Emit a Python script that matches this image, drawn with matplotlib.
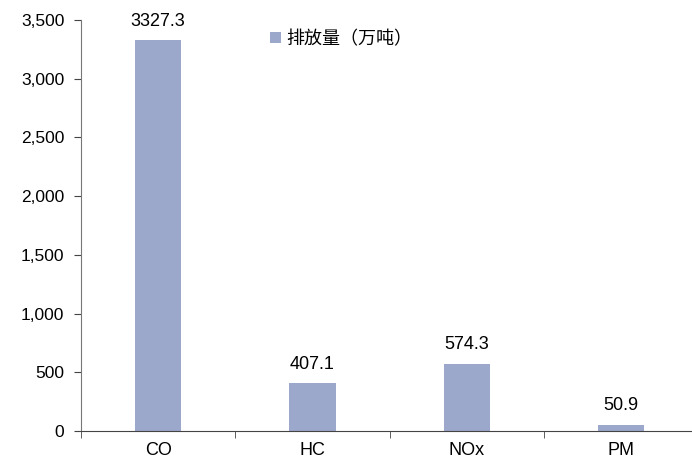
import numpy as np
import matplotlib.pyplot as plt
from matplotlib.ticker import FuncFormatter, FixedLocator

plt.rcParams['font.family'] = ['Liberation Sans', 'Noto Sans CJK SC', 'DejaVu Sans']

categories = ['CO', 'HC', 'NOx', 'PM']
emissions = [3327.3, 407.1, 574.3, 50.9]
series_name = '排放量（万吨）'


def main():
    fig = plt.figure(figsize=(6.92, 4.61), dpi=100)
    ax = fig.add_axes([0.117, 0.065, 0.892, 0.892])
    x = np.arange(len(categories))
    bars = ax.bar(x, emissions, width=0.3, color='#9BA7CB', label=series_name)

    # value labels above the bars
    for b, v in zip(bars, emissions):
        ax.text(b.get_x() + b.get_width() / 2, v + 90, '%.1f' % v,
                ha='center', va='bottom', fontsize=13)

    ax.set_xlim(-0.5, len(categories) - 0.5)
    ax.set_ylim(0, 3500)
    ax.set_yticks(np.arange(0, 3501, 500))
    ax.yaxis.set_major_formatter(FuncFormatter(lambda v, p: '{:,.0f}'.format(v)))
    ax.set_xticks(x)
    ax.set_xticklabels(categories)
    ax.xaxis.set_minor_locator(FixedLocator(np.arange(-0.5, len(categories), 1.0)))
    ax.tick_params(axis='x', which='major', length=0, pad=8, labelsize=13)
    ax.tick_params(axis='x', which='minor', length=5, direction='out', color='#444444')
    ax.tick_params(axis='y', length=5, direction='out', labelsize=12.5, color='#444444', pad=7)

    for s in ['top', 'right']:
        ax.spines[s].set_visible(False)
    ax.spines['left'].set_color('#777777')
    ax.spines['bottom'].set_color('#444444')

    ax.legend(loc='upper left', bbox_to_anchor=(0.28, 1.015), frameon=False,
              handlelength=0.6, handleheight=0.6, handletextpad=0.3,
              prop={'family': ['Noto Sans CJK SC'], 'size': 13})

    fig.savefig('out.png', dpi=100)


if __name__ == '__main__':
    main()
